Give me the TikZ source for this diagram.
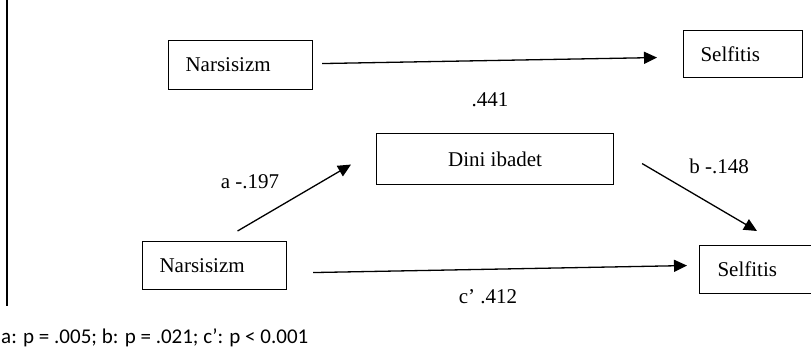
\documentclass[tikz,border=0pt]{standalone}
\usepackage{fontspec}
\setmainfont{Liberation Serif}
\newfontfamily\notefont{Carlito}
\usetikzlibrary{arrows.meta,calc}
\tikzset{
  varbox/.style={draw, line width=1.1pt, anchor=north west, inner ysep=0pt,
    font=\fontsize{21}{25}\selectfont},
  leftbox/.style={varbox, align=left, inner xsep=17pt},
  path arrow/.style={line width=1.3pt, -{Triangle[length=13pt,width=12pt]}},
  coef/.style={font=\fontsize{21}{25}\selectfont, inner sep=0pt},
}
\begin{document}
\begin{tikzpicture}[x=1pt,y=-1pt]
\useasboundingbox (0,0) rectangle (811,353);
\clip (0,0) rectangle (811,353);
% margin rule on the left
\draw[line width=2pt] (6.5,0) -- (6.5,306);

% total effect
\node[leftbox, text width=110pt, minimum height=49pt] (n1) at (168,40) {Narsisizm};
\node[leftbox, text width=85pt, minimum height=47pt] (s1) at (683,30) {Selfitis};
\draw[path arrow] ($(n1.east)+(9,-1.5)$) -- ($(s1.west)+(-26,3.5)$);
\node[coef] (c) at (490,100) {.441};

% mediation model
\node[varbox, align=center, minimum width=237pt, minimum height=51pt] (m) at (376,133) {Dini ibadet};
\node[leftbox, text width=110pt, minimum height=48pt] (n2) at (142,241) {Narsisizm};
\node[leftbox, inner xsep=18pt, text width=85pt, minimum height=48pt] (s2) at (699,245) {Selfitis};

\draw[path arrow] ($(n2.north)+(23,-10)$) -- ($(m.west)+(-25,5.5)$);
\draw[path arrow] ($(m.east)+(28,4.5)$) -- ($(s2.north west)+(58,-14)$);
\draw[path arrow] ($(n2.east)+(26,7)$) -- ($(s2.west)+(-12,-4)$);

\node[coef] (a) at (250,182) {a -.197};
\node[coef] (b) at (719,166) {b -.148};
\node[coef] (cp) at (488,297) {c’ .412};

\node[anchor=west, inner sep=0pt, font=\notefont\fontsize{21}{25}\selectfont] (note) at (1,338)
  {a: p = .005; b: p = .021; c’: p < 0.001};
\end{tikzpicture}
\end{document}
